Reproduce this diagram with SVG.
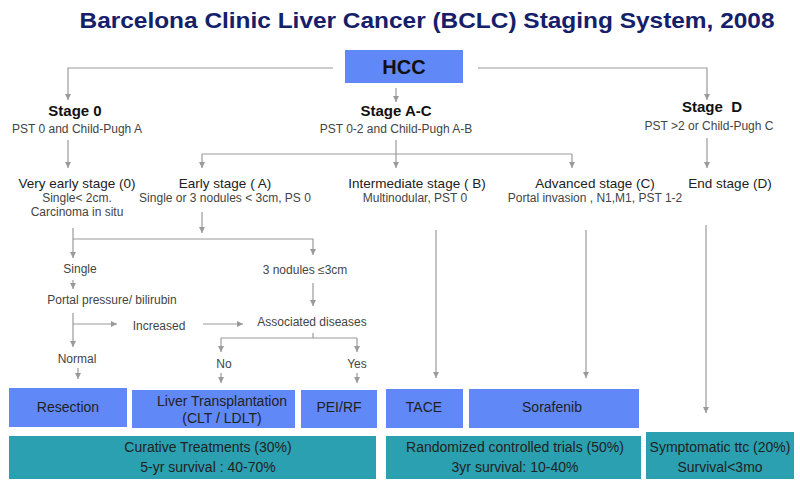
<svg xmlns="http://www.w3.org/2000/svg" width="800" height="488" viewBox="0 0 800 488">
<defs>
<marker id="ah" markerUnits="userSpaceOnUse" markerWidth="7" markerHeight="7" refX="6" refY="3" orient="auto">
<path d="M0,0 L6,3 L0,6 z" fill="#9a9a9a"/>
</marker>
<style>
text{font-family:"Liberation Sans",Arial,sans-serif;text-anchor:middle}
.title{font-size:22px;font-weight:bold;fill:#14206a}
.stage{font-size:15px;font-weight:bold;fill:#111}
.sub{font-size:12px;fill:#444}
.lvl{font-size:13.5px;fill:#222}
.box{font-size:14px;fill:#222}
.blue{fill:#6088f6}
.teal{fill:#2aa0b0}
.conn path{fill:none;stroke:#9a9a9a;stroke-width:1.2}
.arr{marker-end:url(#ah)}
</style>
</defs>
<rect width="800" height="488" fill="#fff"/>
<text class="title" x="427" y="28" textLength="695" lengthAdjust="spacingAndGlyphs">Barcelona Clinic Liver Cancer (BCLC) Staging System, 2008</text>

<g class="conn" id="connectors">
<path class="arr" d="M333,68 H68 V100"/>
<path class="arr" d="M478,68 H707 V100"/>
<path class="arr" d="M396,88 V102"/>
<path class="arr" d="M68,140 V168"/>
<path class="arr" d="M396,140 V168"/>
<path d="M202,154 H572"/>
<path class="arr" d="M202,154 V168"/>
<path class="arr" d="M572,154 V168"/>
<path class="arr" d="M707,138 V168"/>
<path class="arr" d="M202,212 V233"/>
<path class="arr" d="M73,228 V258"/>
<path class="arr" d="M73,239 H313 V255"/>
<path class="arr" d="M73,280 V289"/>
<path class="arr" d="M73,313 V347"/>
<path class="arr" d="M73,324 H117"/>
<path class="arr" d="M203,324 H243"/>
<path class="arr" d="M313,283 V306"/>
<path d="M313,333 V338"/>
<path d="M221,338 H357"/>
<path class="arr" d="M221,338 V352"/>
<path class="arr" d="M357,338 V352"/>
<path class="arr" d="M78,368 V379"/>
<path class="arr" d="M221,373 V383"/>
<path class="arr" d="M357,373 V383"/>
<path class="arr" d="M436,230 V378"/>
<path class="arr" d="M586,230 V378"/>
<path class="arr" d="M706,225 V413"/>
</g>

<g id="hcc"><rect class="blue" x="345" y="50" width="118" height="33"/><text x="404" y="74" style="font-size:20px;font-weight:bold;fill:#111">HCC</text></g>

<g id="stage0"><text class="stage" x="75" y="116">Stage 0</text><text class="sub" x="77" y="133">PST 0 and Child-Pugh A</text></g>
<g id="stageAC"><text class="stage" x="396" y="116">Stage A-C</text><text class="sub" x="396" y="133">PST 0-2 and Child-Pugh A-B</text></g>
<g id="stageD"><text class="stage" x="712" y="112" xml:space="preserve">Stage  D</text><text class="sub" x="709" y="130">PST &gt;2 or Child-Pugh C</text></g>

<g id="veryearly"><text class="lvl" x="77" y="188">Very early stage (0)</text><text class="sub" x="77" y="202">Single&lt; 2cm.</text><text class="sub" x="77" y="216">Carcinoma in situ</text></g>
<g id="early"><text class="lvl" x="225" y="188">Early stage ( A)</text><text class="sub" x="225" y="202">Single or 3 nodules &lt; 3cm, PS 0</text></g>
<g id="intermediate"><text class="lvl" x="417" y="188">Intermediate stage ( B)</text><text class="sub" x="415" y="202">Multinodular, PST 0</text></g>
<g id="advanced"><text class="lvl" x="595" y="188">Advanced stage (C)</text><text class="sub" x="595" y="202">Portal invasion , N1,M1, PST 1-2</text></g>
<g id="endstage"><text class="lvl" x="730" y="188">End stage (D)</text></g>

<g id="single"><text class="sub" x="80" y="273">Single</text></g>
<g id="portal"><text class="sub" x="112" y="304">Portal pressure/ bilirubin</text></g>
<g id="increased"><text class="sub" x="159" y="330">Increased</text></g>
<g id="normal"><text class="sub" x="77" y="363">Normal</text></g>
<g id="nodules3"><text class="sub" x="305" y="274">3 nodules ≤3cm</text></g>
<g id="assoc"><text class="sub" x="312" y="326">Associated diseases</text></g>
<g id="no"><text class="sub" x="224" y="368">No</text></g>
<g id="yes"><text class="sub" x="357" y="368">Yes</text></g>

<g id="resection"><rect class="blue" x="9" y="388" width="118" height="39"/><text class="box" x="68" y="412">Resection</text></g>
<g id="liver"><rect class="blue" x="132" y="390" width="163" height="38"/><text class="box" x="222" y="406">Liver Transplantation</text><text class="box" x="222" y="423">(CLT / LDLT)</text></g>
<g id="pei"><rect class="blue" x="301" y="390" width="76" height="38"/><text class="box" x="339" y="412">PEI/RF</text></g>
<g id="tace"><rect class="blue" x="386" y="389" width="77" height="39"/><text class="box" x="424" y="412">TACE</text></g>
<g id="sorafenib"><rect class="blue" x="469" y="389" width="170" height="39"/><text class="box" x="552" y="412">Sorafenib</text></g>

<g id="curative"><rect class="teal" x="9" y="436" width="367" height="43"/><text class="box" x="208" y="452">Curative Treatments (30%)</text><text class="box" x="208" y="472">5-yr survival : 40-70%</text></g>
<g id="rct"><rect class="teal" x="386" y="436" width="255" height="43"/><text class="box" x="515" y="452">Randomized controlled trials (50%)</text><text class="box" x="515" y="472">3yr survival: 10-40%</text></g>
<g id="symptomatic"><rect class="teal" x="646" y="432" width="148" height="47"/><text class="box" x="720" y="452">Symptomatic ttc (20%)</text><text class="box" x="720" y="472">Survival&lt;3mo</text></g>
</svg>
